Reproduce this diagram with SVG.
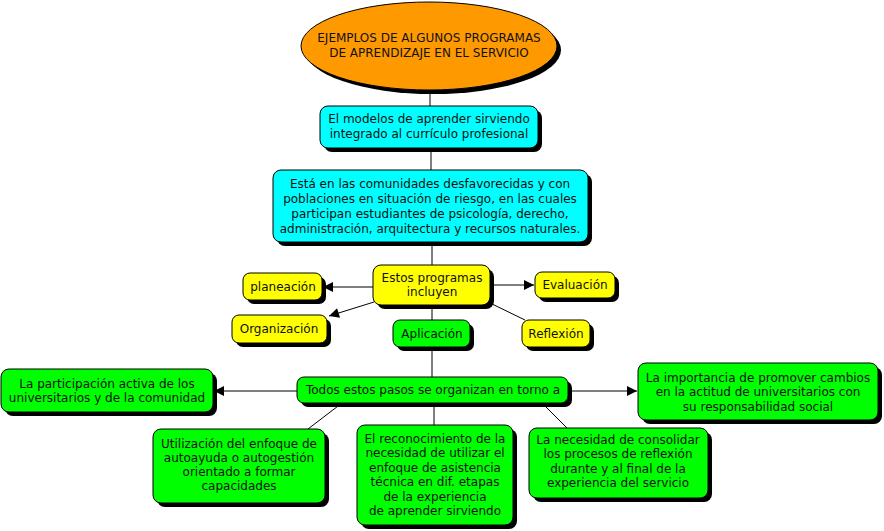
<svg xmlns="http://www.w3.org/2000/svg" width="884" height="531" viewBox="0 0 884 531">
<defs>
<style>
text{font-family:"DejaVu Sans","Liberation Sans",sans-serif;font-size:12px;fill:#111;text-anchor:middle}
.sh{fill:#000}
.c{fill:#00FFFF;stroke:#000;stroke-width:1}
.y{fill:#FFFF00;stroke:#000;stroke-width:1}
.g{fill:#00FF00;stroke:#000;stroke-width:1}
.o{fill:#FF9900;stroke:#000;stroke-width:1}
.ln{stroke:#000;stroke-width:1;fill:none}
</style>
<marker id="ah" viewBox="0 0 10 10" refX="10" refY="5" markerWidth="12" markerHeight="10" markerUnits="userSpaceOnUse" orient="auto">
<path d="M0,0 L10,5 L0,10 z" fill="#000"/>
</marker>
</defs>
<rect width="884" height="531" fill="#fff"/>
<g id="connectors">
<line class="ln" x1="430" y1="88" x2="430" y2="106"/>
<line class="ln" x1="431" y1="148" x2="431" y2="170"/>
<line class="ln" x1="432" y1="242" x2="432" y2="265"/>
<line class="ln" x1="373" y1="287" x2="323" y2="287" marker-end="url(#ah)"/>
<line class="ln" x1="490" y1="285" x2="534" y2="285" marker-end="url(#ah)"/>
<line class="ln" x1="374" y1="302" x2="329" y2="316" marker-end="url(#ah)"/>
<line class="ln" x1="490" y1="303" x2="525" y2="320"/>
<line class="ln" x1="432" y1="305" x2="432" y2="320"/>
<line class="ln" x1="432" y1="347" x2="432" y2="377"/>
<line class="ln" x1="297" y1="391" x2="214" y2="391" marker-end="url(#ah)"/>
<line class="ln" x1="568" y1="391" x2="637" y2="391" marker-end="url(#ah)"/>
<line class="ln" x1="342" y1="403" x2="308" y2="429"/>
<line class="ln" x1="434" y1="403" x2="434" y2="425"/>
<line class="ln" x1="542" y1="403" x2="567" y2="428"/>
</g>
<g id="n-title">
<ellipse class="sh" cx="433" cy="50" rx="128" ry="44"/>
<ellipse class="o" cx="429" cy="46" rx="128" ry="44"/>
<text x="429" y="42">EJEMPLOS DE ALGUNOS PROGRAMAS</text>
<text x="429" y="57">DE APRENDIZAJE EN EL SERVICIO</text>
</g>
<g id="n-modelos">
<rect class="sh" x="324" y="110" width="218" height="42" rx="8"/>
<rect class="c" x="320" y="106" width="218" height="42" rx="8"/>
<text x="429" y="123">El modelos de aprender sirviendo</text>
<text x="429" y="138">integrado al currículo profesional</text>
</g>
<g id="n-comunidades">
<rect class="sh" x="277" y="174" width="315" height="72" rx="8"/>
<rect class="c" x="273" y="170" width="315" height="72" rx="8"/>
<text x="430" y="188">Está en las comunidades desfavorecidas y con</text>
<text x="430" y="203">poblaciones en situación de riesgo, en las cuales</text>
<text x="430" y="218">participan estudiantes de psicología, derecho,</text>
<text x="430" y="233">administración, arquitectura y recursos naturales.</text>
</g>
<g id="n-incluyen">
<rect class="sh" x="377" y="269" width="117" height="40" rx="8"/>
<rect class="y" x="373" y="265" width="117" height="40" rx="8"/>
<text x="432" y="282">Estos programas</text>
<text x="432" y="296">incluyen</text>
</g>
<g id="n-planeacion">
<rect class="sh" x="247" y="277" width="79" height="27" rx="7"/>
<rect class="y" x="243" y="273" width="79" height="27" rx="7"/>
<text x="283" y="291">planeación</text>
</g>
<g id="n-evaluacion">
<rect class="sh" x="539" y="276" width="80" height="26" rx="7"/>
<rect class="y" x="535" y="272" width="80" height="26" rx="7"/>
<text x="575" y="289">Evaluación</text>
</g>
<g id="n-organizacion">
<rect class="sh" x="236" y="319" width="95" height="28" rx="7"/>
<rect class="y" x="232" y="315" width="95" height="28" rx="7"/>
<text x="279" y="333">Organización</text>
</g>
<g id="n-aplicacion">
<rect class="sh" x="397" y="324" width="77" height="27" rx="7"/>
<rect class="g" x="393" y="320" width="77" height="27" rx="7"/>
<text x="432" y="338">Aplicación</text>
</g>
<g id="n-reflexion">
<rect class="sh" x="526" y="324" width="68" height="27" rx="7"/>
<rect class="y" x="522" y="320" width="68" height="27" rx="7"/>
<text x="556" y="338">Reflexión</text>
</g>
<g id="n-todos">
<rect class="sh" x="301" y="381" width="271" height="26" rx="7"/>
<rect class="g" x="297" y="377" width="271" height="26" rx="7"/>
<text x="433" y="394">Todos estos pasos se organizan en torno a</text>
</g>
<g id="n-participacion">
<rect class="sh" x="5" y="373" width="212" height="43" rx="8"/>
<rect class="g" x="1" y="369" width="212" height="43" rx="8"/>
<text x="107" y="388">La participación activa de los</text>
<text x="107" y="402">universitarios y de la comunidad</text>
</g>
<g id="n-importancia">
<rect class="sh" x="642" y="367" width="240" height="57" rx="8"/>
<rect class="g" x="638" y="363" width="240" height="57" rx="8"/>
<text x="758" y="382">La importancia de promover cambios</text>
<text x="758" y="396">en la actitud de universitarios con</text>
<text x="758" y="411">su responsabilidad social</text>
</g>
<g id="n-utilizacion">
<rect class="sh" x="157" y="433" width="172" height="74" rx="8"/>
<rect class="g" x="153" y="429" width="172" height="74" rx="8"/>
<text x="239" y="448">Utilización del enfoque de</text>
<text x="239" y="462">autoayuda o autogestión</text>
<text x="239" y="476">orientado a formar</text>
<text x="239" y="490">capacidades</text>
</g>
<g id="n-reconocimiento">
<rect class="sh" x="361" y="429" width="156" height="100" rx="8"/>
<rect class="g" x="357" y="425" width="156" height="100" rx="8"/>
<text x="435" y="443">El reconocimiento de la</text>
<text x="435" y="457">necesidad de utilizar el</text>
<text x="435" y="472">enfoque de asistencia</text>
<text x="435" y="486">técnica en dif. etapas</text>
<text x="435" y="501">de la experiencia</text>
<text x="435" y="515">de aprender sirviendo</text>
</g>
<g id="n-necesidad">
<rect class="sh" x="533" y="432" width="179" height="70" rx="8"/>
<rect class="g" x="529" y="428" width="179" height="70" rx="8"/>
<text x="618" y="444">La necesidad de consolidar</text>
<text x="618" y="458">los procesos de reflexión</text>
<text x="618" y="473">durante y al final de la</text>
<text x="618" y="487">experiencia del servicio</text>
</g>
</svg>
